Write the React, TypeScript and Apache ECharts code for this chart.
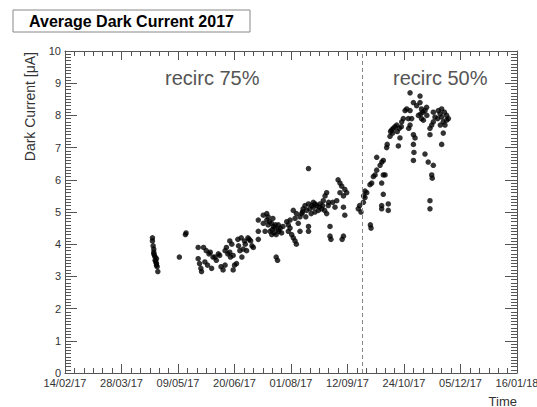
import React, { useEffect, useRef } from "react";
import * as echarts from "echarts";

// x values: days since 14/02/17, y values: dark current [µA]
const startDateUTC = Date.UTC(2017, 1, 14);
const xTickIntervalDays = 42;
const xMaxDays = 336;
const recircChangeDay = 221;

const recirc75Readings: [number, number][] = [
  [65, 4.2], [65, 4.1], [65.5, 3.95], [66, 3.85], [66, 3.75], [66, 3.7], [66.5, 3.65], [67, 3.6], [67, 3.5],
  [67.5, 3.45], [68, 3.55], [68, 3.4], [68, 3.35], [68.5, 3.3], [69, 3.15],
  [85, 3.6], [90, 4.35], [89.5, 4.3],
  [99, 3.9], [99, 3.55], [100, 3.4], [101, 3.25], [101.5, 3.15], [103, 3.9], [104, 3.45], [105, 3.8],
  [106, 3.35], [107, 3.7], [108, 3.75], [109, 3.25], [110, 3.6], [111.5, 3.6], [112.5, 3.5], [114, 3.7],
  [115, 3.65], [116, 3.3], [117.5, 3.2], [119, 3.8], [119, 3.35], [120, 3.9], [121, 3.7], [122.5, 4.1],
  [122.5, 3.75], [123, 3.6], [124, 4.0], [125, 3.65], [125, 3.2], [126, 3.35], [127.5, 3.4], [128.5, 4.15],
  [129, 3.95], [130, 3.8], [131, 4.2], [131.5, 3.6], [132.5, 3.85], [133.5, 4.1], [134, 4.0], [135, 3.8],
  [136, 4.2], [137, 4.15], [138, 4.1], [139, 3.95], [140, 3.9],
  [143.7, 4.75], [143.7, 4.4], [143.7, 4.15], [147.4, 4.9], [147.4, 4.65], [148.7, 4.4], [150, 4.95],
  [150, 4.75], [151, 4.85], [151, 4.6], [152.4, 4.4], [152, 4.7], [153.6, 4.65], [153.7, 4.3], [154, 4.45],
  [154.5, 4.8], [155, 4.55], [155.5, 4.35], [156, 4.5], [156.5, 4.6], [157, 4.3], [157, 3.6], [158, 3.5],
  [158.6, 4.6], [158.6, 4.45], [159, 4.4], [160, 4.5], [161, 4.35], [162, 4.55],
  [164.8, 4.7], [166, 4.6], [167.3, 4.75], [167.3, 4.5], [166, 4.4], [168.5, 4.3], [169.7, 5.05], [169.7, 4.2],
  [171, 4.8], [171, 4.1], [172, 4.95], [172, 4.0], [173.4, 4.65], [174.7, 4.85], [174.7, 4.4], [176, 4.95],
  [176.5, 5.0], [177, 5.1], [178.4, 5.2], [179, 4.85], [179.6, 5.05], [181, 6.35], [181, 5.25], [181, 4.55],
  [181, 4.4], [182, 5.1], [183, 4.95], [183.5, 5.2], [184.6, 5.3], [184.6, 5.15], [185.8, 5.0], [186, 5.25],
  [187, 5.2], [188.3, 5.05], [189, 5.15], [189.6, 5.25], [190.8, 5.1], [191.5, 5.2], [192, 5.35], [193, 5.05],
  [193.3, 5.5], [194.5, 5.6], [194.5, 4.95], [195.7, 5.2], [196, 5.3], [197, 4.55], [197, 4.25], [197.7, 4.15],
  [199, 5.3], [200.7, 5.15], [202, 5.35], [203, 6.0], [204.4, 5.9], [205.7, 5.8], [204.4, 5.6], [206, 4.15],
  [207, 5.5], [207, 5.15], [207, 4.25], [208, 5.7], [208, 4.9], [209.4, 5.6],
  [218, 5.1], [219, 5.2], [220, 5.0],
];

const recirc50Readings: [number, number][] = [
  [221.8, 5.3], [222, 5.5], [223, 5.45], [223, 5.65], [224.3, 5.6], [226.7, 5.85], [227, 4.6], [227.5, 4.5],
  [228, 5.9], [229.2, 6.1], [230.5, 6.15], [231.7, 6.3], [231.7, 6.7], [234.2, 6.45], [236.6, 5.55],
  [235.5, 6.55], [235.4, 5.9], [236.6, 6.6], [236.6, 6.15], [235.4, 5.2], [235.4, 5.1], [237.9, 6.15],
  [239.1, 7.0], [239.5, 7.1], [240.3, 5.25], [240.3, 5.05], [241.6, 7.35], [242.9, 7.55], [243.5, 7.45],
  [242, 7.5], [244, 7.6], [245.3, 7.65], [246.6, 7.7], [247, 7.5], [247.8, 7.05], [248.5, 7.6], [249, 7.3],
  [250, 7.65], [250.3, 7.8], [251.5, 7.9],
  [252.8, 8.15], [254, 8.2], [255.2, 7.9], [255.5, 7.6], [256.5, 8.15], [256.5, 7.7], [256.5, 8.7],
  [257.7, 7.9], [259, 8.4], [259, 7.4], [260.2, 7.3], [259, 7.1], [259.4, 6.85], [259, 6.6], [261.4, 8.3],
  [262.7, 8.0], [263.9, 8.6], [263.9, 8.4], [264.5, 8.05], [265, 8.2], [265, 7.9], [266, 8.1], [266.4, 7.85],
  [267.6, 8.15], [267.6, 6.8], [268.8, 8.25], [269, 8.0], [270, 6.55], [271.3, 7.6], [271.3, 7.4],
  [271.3, 5.35], [271.3, 5.1], [272.6, 7.7],
  [272.6, 6.15], [273, 6.05], [273.8, 8.1], [273.8, 7.8], [273.8, 6.45], [275, 7.95], [277, 7.9], [277.5, 8.15],
  [278.8, 8.05], [279, 7.7], [280, 7.95], [280, 8.2], [280, 7.1], [281.2, 7.8], [281.2, 7.45], [282, 8.1],
  [282.5, 7.7], [283.7, 8.0], [283.7, 7.85], [285, 7.9],
];

const titleText = "Average Dark Current 2017";
const yAxisTitle = "Dark Current [μA]";
const xAxisTitle = "Time";
const periodLabels = ["recirc 75%", "recirc 50%"];

const FONT = "'Liberation Sans', Arial, Helvetica, sans-serif";
const AXIS_COLOR = "#555";

function formatDay(d: number): string {
  const dt = new Date(startDateUTC + d * 86400000);
  const dd = String(dt.getUTCDate()).padStart(2, "0");
  const mm = String(dt.getUTCMonth() + 1).padStart(2, "0");
  const yy = String(dt.getUTCFullYear() % 100).padStart(2, "0");
  return `${dd}/${mm}/${yy}`;
}

export default function App() {
  const ref = useRef<HTMLDivElement>(null);

  useEffect(() => {
    document.body.style.margin = "0";
    if (!ref.current) return;
    const chart = echarts.init(ref.current, undefined, { renderer: "svg" });

    const xBase = {
      type: "value" as const,
      min: 0,
      max: xMaxDays,
      interval: xTickIntervalDays,
      axisLine: { show: true, onZero: false, lineStyle: { color: AXIS_COLOR, width: 1 } },
      axisTick: { show: true, inside: true, length: 9, lineStyle: { color: AXIS_COLOR } },
      minorTick: { show: true, splitNumber: 6, length: 5, lineStyle: { color: AXIS_COLOR } },
      splitLine: { show: false },
      minorSplitLine: { show: false },
    };
    const yBase = {
      type: "value" as const,
      min: 0,
      max: 10,
      interval: 1,
      axisLine: { show: true, onZero: false, lineStyle: { color: AXIS_COLOR, width: 1 } },
      axisTick: { show: true, inside: true, length: 12, lineStyle: { color: AXIS_COLOR } },
      minorTick: { show: true, splitNumber: 10, length: 6, lineStyle: { color: AXIS_COLOR } },
      splitLine: { show: false },
      minorSplitLine: { show: false },
    };

    chart.setOption({
      animation: false,
      backgroundColor: "#fff",
      grid: { left: 65, right: 20, top: 51, bottom: 34, containLabel: false, outerBoundsMode: "none" },
      xAxis: [
        {
          ...xBase,
          position: "bottom",
          axisLabel: {
            show: true,
            margin: 4,
            fontSize: 11,
            fontFamily: FONT,
            color: "#333",
            formatter: (v: number) => formatDay(v),
          },
        },
        { ...xBase, position: "top", axisLabel: { show: false } },
      ],
      yAxis: [
        {
          ...yBase,
          position: "left",
          axisLabel: { show: true, margin: 4, fontSize: 11, fontFamily: FONT, color: "#333" },
        },
        { ...yBase, position: "right", axisLabel: { show: false } },
      ],
      series: [
        {
          name: periodLabels[0],
          type: "scatter",
          xAxisIndex: 0,
          yAxisIndex: 0,
          data: recirc75Readings,
          symbol: "circle",
          symbolSize: 5.5,
          itemStyle: { color: "#000" },
          markLine: {
            silent: true,
            symbol: ["none", "none"],
            label: { show: false },
            lineStyle: { type: [4, 3], color: "#888", width: 1 },
            data: [{ xAxis: recircChangeDay }],
          },
        },
        {
          name: periodLabels[1],
          type: "scatter",
          xAxisIndex: 0,
          yAxisIndex: 0,
          data: recirc50Readings,
          symbol: "circle",
          symbolSize: 5.5,
          itemStyle: { color: "#000" },
        },
      ],
      graphic: [
        {
          type: "rect",
          shape: { x: 13, y: 10, width: 237, height: 22 },
          style: { fill: "#fff", stroke: "#888", lineWidth: 1 },
        },
        {
          type: "text",
          x: 131.5,
          y: 21,
          style: {
            text: titleText,
            font: `bold 16px ${FONT}`,
            fill: "#000",
            textAlign: "center",
            textVerticalAlign: "middle",
          },
        },
        {
          type: "text",
          x: 30,
          y: 52,
          rotation: Math.PI / 2,
          style: {
            text: yAxisTitle,
            font: `14px ${FONT}`,
            fill: "#333",
            textAlign: "right",
            textVerticalAlign: "middle",
          },
        },
        {
          type: "text",
          x: 517,
          y: 401,
          style: {
            text: xAxisTitle,
            font: `13px ${FONT}`,
            fill: "#333",
            textAlign: "right",
            textVerticalAlign: "middle",
          },
        },
        {
          type: "text",
          x: 165,
          y: 78,
          style: {
            text: periodLabels[0],
            font: `20px ${FONT}`,
            fill: "#555",
            textAlign: "left",
            textVerticalAlign: "middle",
          },
        },
        {
          type: "text",
          x: 393,
          y: 78,
          style: {
            text: periodLabels[1],
            font: `20px ${FONT}`,
            fill: "#555",
            textAlign: "left",
            textVerticalAlign: "middle",
          },
        },
      ],
    });

    return () => chart.dispose();
  }, []);

  return (
    <div
      ref={ref}
      style={{ position: "fixed", left: 0, top: 0, width: 537, height: 407, background: "#fff" }}
    />
  );
}
